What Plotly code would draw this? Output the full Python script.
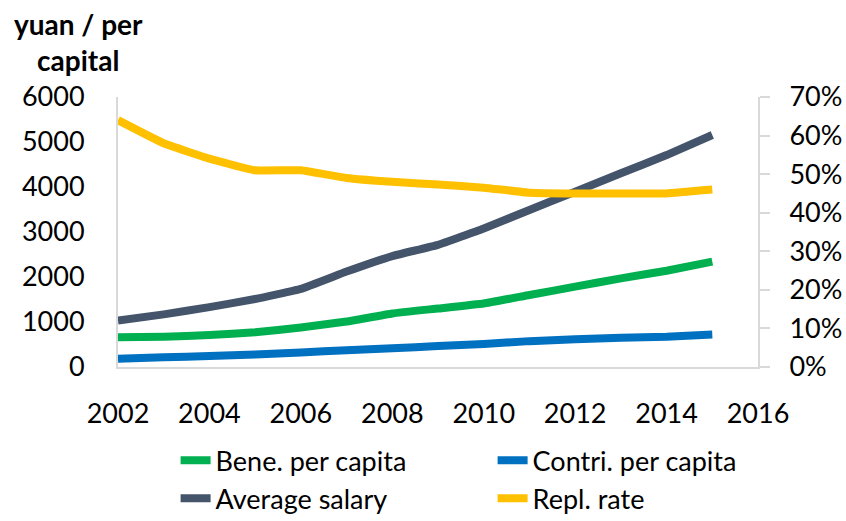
import plotly.graph_objects as go

years = list(range(2002, 2016))
bene_per_capita = [660, 675, 710, 770, 880, 1010, 1190, 1300, 1410, 1600, 1785, 1970, 2140, 2340]
contri_per_capita = [185, 215, 245, 280, 325, 375, 415, 465, 510, 575, 615, 650, 675, 725]
average_salary = [1030, 1170, 1330, 1510, 1735, 2120, 2465, 2715, 3080, 3490, 3895, 4305, 4710, 5155]
repl_rate = [0.64, 0.58, 0.54, 0.51, 0.51, 0.49, 0.48, 0.473, 0.465, 0.452, 0.45, 0.45, 0.45, 0.46]

names = ["Bene. per capita", "Contri. per capita", "Average salary", "Repl. rate"]
colors = ["#00B050", "#0070C0", "#44546A", "#FFC000"]

FONT = "Lato"
fig = go.Figure()
for name, vals, col in zip(names[:3], [bene_per_capita, contri_per_capita, average_salary], colors[:3]):
    fig.add_trace(go.Scatter(x=years, y=vals, name=name, mode="lines",
                             line=dict(color=col, width=8, shape="spline", smoothing=0.3)))
fig.add_trace(go.Scatter(x=years, y=repl_rate, name=names[3], mode="lines", yaxis="y2",
                         line=dict(color=colors[3], width=8, shape="spline", smoothing=0.3)))

axis_col = "#d9d9d9"
fig.update_layout(
    width=846, height=521,
    margin=dict(l=118, r=88, t=97, b=154, autoexpand=False),
    paper_bgcolor="white", plot_bgcolor="white",
    font=dict(family=FONT, size=27, color="black"),
    showlegend=True,
    xaxis=dict(range=[2002, 2016], dtick=2, tick0=2002, showgrid=False, zeroline=False,
               showline=True, linecolor=axis_col, linewidth=2, ticks="",
               ticklabelstandoff=22, tickfont=dict(size=27)),
    yaxis=dict(range=[0, 6000], dtick=1000, showgrid=False, zeroline=False,
               showline=True, linecolor=axis_col, linewidth=2, ticks="",
               ticklabelstandoff=26, tickfont=dict(size=27)),
    yaxis2=dict(range=[0, 0.7], dtick=0.1, tickformat=".0%", overlaying="y", side="right",
                showgrid=False, zeroline=False, showline=True, linecolor=axis_col, linewidth=2,
                ticks="outside", ticklen=10, tickcolor=axis_col, tickwidth=2,
                ticklabelstandoff=14, tickfont=dict(size=27)),
    legend=dict(orientation="h", x=0.09, xanchor="left", y=-0.256, yanchor="top",
                entrywidth=272, entrywidthmode="pixels", font=dict(size=27),
                bgcolor="rgba(0,0,0,0)", traceorder="normal"),
    annotations=[dict(text="<b>yuan / per<br>capital</b>", xref="paper", yref="paper",
                      x=-0.0625, y=1.203, xanchor="center", yanchor="middle",
                      showarrow=False, font=dict(size=28, family=FONT), align="center")],
)
fig.write_html("out.html", config={"displayModeBar": False},
               post_script="document.body.style.margin='0';document.body.style.overflow='hidden';")
